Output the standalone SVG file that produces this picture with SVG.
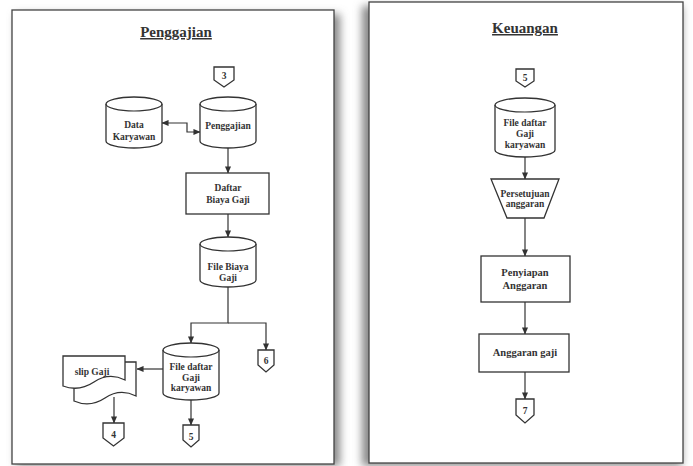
<svg xmlns="http://www.w3.org/2000/svg" width="693" height="466" viewBox="0 0 693 466">
<style>
.shape{fill:#fff;stroke:#333;stroke-width:1.3}
.ln{fill:none;stroke:#333;stroke-width:1.2}
.t{font-family:'Liberation Serif','Times New Roman',Tinos,'DejaVu Serif',serif;font-weight:bold;font-size:9.5px;fill:#333;text-anchor:middle}
.big{font-size:10.5px}
.title{font-family:'Liberation Serif','Times New Roman',Tinos,'DejaVu Serif',serif;font-weight:bold;font-size:15px;fill:#333;text-anchor:middle;text-decoration:underline}
.panel{fill:#fff;stroke:#444;stroke-width:1.3}
</style>
<defs>
<marker id="ah" viewBox="0 0 8 8" refX="7.5" refY="4" markerWidth="7" markerHeight="7" markerUnits="userSpaceOnUse" orient="auto-start-reverse">
<path d="M0,0.5 L8,4 L0,7.5 Z" fill="#333"/>
</marker>
<filter id="sh" x="-10%" y="-10%" width="120%" height="120%">
<feGaussianBlur stdDeviation="4"/>
</filter>
</defs>
<rect width="693" height="466" fill="#fff"/>
<rect x="16" y="14" width="324" height="452" fill="#888" filter="url(#sh)"/>
<rect x="362" y="6" width="320" height="460" fill="#888" filter="url(#sh)"/>
<rect class="panel" x="12" y="10" width="322" height="454"/>
<rect class="panel" x="369" y="2" width="314" height="461"/>
<text class="title" x="176" y="37">Penggajian</text>
<text class="title" x="525" y="33">Keuangan</text>

<g id="connectors">
<path class="ln" d="M162,123 H187 V132 H200" marker-start="url(#ah)" marker-end="url(#ah)"/>
<path class="ln" d="M228,148 V173" marker-end="url(#ah)"/>
<path class="ln" d="M228,214 V237" marker-end="url(#ah)"/>
<path class="ln" d="M228,287 V323 H191 V343" marker-end="url(#ah)"/>
<path class="ln" d="M228,323 H266 V350" marker-end="url(#ah)"/>
<path class="ln" d="M163,369 H137" marker-end="url(#ah)"/>
<path class="ln" d="M114,397 V423" marker-end="url(#ah)"/>
<path class="ln" d="M191,400 V425" marker-end="url(#ah)"/>
<path class="ln" d="M525,157 V179" marker-end="url(#ah)"/>
<path class="ln" d="M525,218 V256" marker-end="url(#ah)"/>
<path class="ln" d="M525,302 V334" marker-end="url(#ah)"/>
<path class="ln" d="M525,372 V399" marker-end="url(#ah)"/>
</g>

<g id="conn3">
<path class="shape" d="M214,67 H234 V80 L224,87 L214,80 Z"/>
<text class="t" x="224" y="79">3</text>
</g>
<g id="data-karyawan">
<path class="shape" d="M106,104 A28,7 0 0 1 162,104 V141 A28,7 0 0 1 106,141 Z"/>
<path class="ln" d="M106,104 A28,7 0 0 0 162,104"/>
<text class="t" x="134" y="128">Data</text>
<text class="t" x="134" y="140">Karyawan</text>
</g>
<g id="penggajian-db">
<path class="shape" d="M200,104 A28,7 0 0 1 256,104 V141 A28,7 0 0 1 200,141 Z"/>
<path class="ln" d="M200,104 A28,7 0 0 0 256,104"/>
<text class="t" x="228" y="129">Penggajian</text>
</g>
<g id="daftar-biaya">
<rect class="shape" x="186" y="173" width="83" height="41"/>
<text class="t" x="228" y="191">Daftar</text>
<text class="t" x="228" y="203">Biaya Gaji</text>
</g>
<g id="file-biaya">
<path class="shape" d="M200,244 A28,7 0 0 1 256,244 V280 A28,7 0 0 1 200,280 Z"/>
<path class="ln" d="M200,244 A28,7 0 0 0 256,244"/>
<text class="t" x="228" y="270">File Biaya</text>
<text class="t" x="228" y="281">Gaji</text>
</g>
<g id="conn6">
<path class="shape" d="M258,350 H274 V365 L266,372 L258,365 Z"/>
<text class="t" x="266" y="364">6</text>
</g>
<g id="file-daftar-1">
<path class="shape" d="M163,350 A28,7 0 0 1 219,350 V393 A28,7 0 0 1 163,393 Z"/>
<path class="ln" d="M163,350 A28,7 0 0 0 219,350"/>
<text class="t" x="191" y="370">File daftar</text>
<text class="t" x="191" y="381">Gaji</text>
<text class="t" x="191" y="391">karyawan</text>
</g>
<g id="slip-gaji">
<path class="shape" d="M74,362 H136 V396 Q120,388 105,398 T74,401 Z"/>
<path class="shape" d="M63,356 H125 V380 Q109,372 94,382 T63,386 Z"/>
<text class="t" x="92" y="375">slip Gaji</text>
</g>
<g id="conn4">
<path class="shape" d="M103,423 H124 V438 L113.5,446 L103,438 Z"/>
<text class="t" x="113.5" y="438">4</text>
</g>
<g id="conn5a">
<path class="shape" d="M183,425 H199 V440 L191,447 L183,440 Z"/>
<text class="t" x="191" y="440">5</text>
</g>

<g id="conn5b">
<path class="shape" d="M516,69 H534 V81 L525,87 L516,81 Z"/>
<text class="t" x="525" y="81">5</text>
</g>
<g id="file-daftar-2">
<path class="shape" d="M495,105 A30,7 0 0 1 555,105 V150 A30,7 0 0 1 495,150 Z"/>
<path class="ln" d="M495,105 A30,7 0 0 0 555,105"/>
<text class="t" x="525" y="126">File daftar</text>
<text class="t" x="525" y="137">Gaji</text>
<text class="t" x="525" y="148">karyawan</text>
</g>
<g id="persetujuan">
<path class="shape" d="M491,179 H559 L544,218 H507 Z"/>
<text class="t" x="525" y="197">Persetujuan</text>
<text class="t" x="525" y="207">anggaran</text>
</g>
<g id="penyiapan">
<rect class="shape" x="481" y="256" width="89" height="46"/>
<text class="t big" x="525" y="276">Penyiapan</text>
<text class="t big" x="525" y="289">Anggaran</text>
</g>
<g id="anggaran-gaji">
<rect class="shape" x="479" y="334" width="90" height="38"/>
<text class="t big" x="525" y="356">Anggaran gaji</text>
</g>
<g id="conn7">
<path class="shape" d="M516,399 H534 V415 L525,423 L516,415 Z"/>
<text class="t" x="525" y="414">7</text>
</g>
</svg>
